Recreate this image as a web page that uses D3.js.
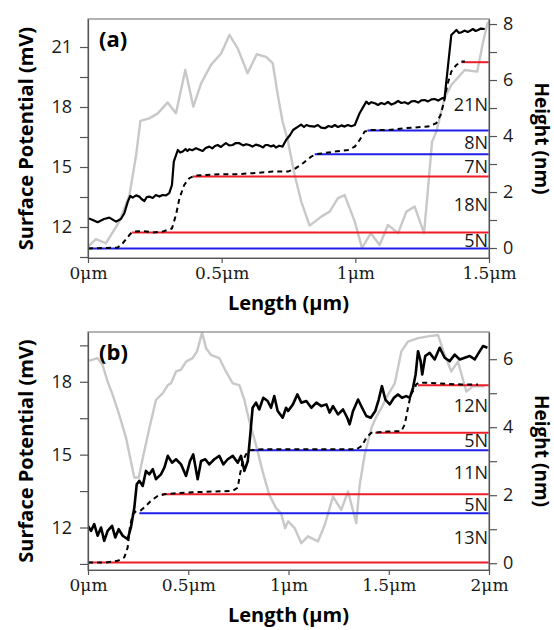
<!DOCTYPE html>
<html>
<head>
<meta charset="utf-8">
<script src="https://cdn.jsdelivr.net/npm/d3@7"></script>
<style>
  body { margin: 0; background: #fff; }
  svg { display: block; }
</style>
</head>
<body>
<svg id="chart"></svg>
<script>
// ---- panel (a) data : [length um, value] ----
var aHeight = [[0,0.05],[0.03,0.32],[0.067,0.17],[0.117,0.94],[0.155,1.89],[0.18,3.32],[0.196,4.54],[0.229,4.63],
  [0.261,4.81],[0.298,5.2],[0.329,4.81],[0.364,6.36],[0.394,5.05],[0.423,5.88],[0.46,6.54],[0.498,6.95],[0.529,7.61],
  [0.56,7.13],[0.597,6.24],[0.631,6.92],[0.666,6.83],[0.691,6.6],[0.71,5.46],[0.728,4.51],[0.747,3.86],[0.773,2.61],
  [0.798,1.65],[0.829,0.8],[0.873,1.12],[0.904,1.3],[0.935,1.78],[0.96,1.89],[0.998,0.94],[1.025,0.0],[1.058,0.53],
  [1.091,0.11],[1.122,0.82],[1.16,0.53],[1.191,1.3],[1.222,1.48],[1.257,0.53],[1.272,2.13],[1.287,3.8],[1.303,4.15],
  [1.334,5.35],[1.359,5.82],[1.409,6.36],[1.456,6.3],[1.478,7.37],[1.496,8.08]];

var aPotential = [[0,12.44],[0.018,12.35],[0.036,12.24],[0.06,12.4],[0.08,12.47],[0.105,12.27],[0.123,12.4],[0.136,12.69],
  [0.149,13.27],[0.158,13.55],[0.167,13.47],[0.18,13.58],[0.192,13.52],[0.2,13.4],[0.211,13.3],[0.22,13.5],[0.229,13.52],
  [0.242,13.45],[0.254,13.6],[0.267,13.52],[0.279,13.6],[0.292,13.58],[0.304,13.69],
  [0.314,14.1],[0.321,15.27],[0.336,15.85],[0.345,15.72],[0.354,15.77],[0.365,15.9],[0.372,15.8],[0.379,15.89],
  [0.39,15.84],[0.404,15.94],[0.415,15.88],[0.429,15.8],[0.44,15.95],[0.454,16.02],[0.465,15.93],[0.475,16.05],
  [0.485,16.1],[0.497,16.0],[0.508,16.12],[0.516,16.19],[0.528,16.08],[0.541,16.1],[0.553,16.2],[0.566,16.19],
  [0.58,16.08],[0.592,16.14],[0.603,16.1],[0.615,16.02],[0.628,16.12],[0.641,16.07],[0.655,15.98],[0.664,16.1],
  [0.672,16.1],[0.685,16.03],[0.695,16.08],[0.703,15.97],[0.715,16.06],[0.728,16.02],
  [0.741,16.35],[0.756,16.6],[0.767,16.85],[0.786,17.02],[0.797,17.12],[0.808,17.0],[0.817,17.1],[0.83,17.04],
  [0.848,17.02],[0.86,17.1],[0.872,16.97],[0.886,16.94],[0.9,17.05],[0.912,17.0],[0.923,17.1],[0.935,17.0],
  [0.948,17.08],[0.96,17.02],[0.972,17.1],[0.985,17.04],[0.998,17.1],
  [1.016,17.69],[1.041,18.27],[1.05,18.15],[1.06,18.24],[1.073,18.19],[1.085,18.1],[1.097,18.2],[1.11,18.14],
  [1.122,18.25],[1.135,18.12],[1.147,18.19],[1.16,18.3],[1.172,18.2],[1.185,18.24],[1.197,18.16],[1.21,18.28],
  [1.222,18.3],[1.235,18.22],[1.247,18.33],[1.26,18.35],[1.272,18.28],[1.285,18.38],[1.297,18.4],[1.31,18.32],
  [1.322,18.42],[1.334,18.47],[1.347,20.1],[1.359,21.6],[1.378,21.85],[1.388,21.7],[1.397,21.74],[1.41,21.82],
  [1.42,21.75],[1.428,21.8],[1.44,21.9],[1.45,21.8],[1.459,21.85],[1.47,21.92],[1.484,21.9]];

var aDashed = [[0,10.93],[0.111,10.97],[0.13,11.19],[0.155,11.6],[0.167,11.77],[0.205,11.8],[0.242,11.73],[0.279,11.77],
  [0.314,11.93],[0.329,12.6],[0.342,13.43],[0.36,14.1],[0.379,14.44],[0.398,14.57],[0.442,14.6],[0.492,14.64],
  [0.554,14.64],[0.616,14.69],[0.691,14.77],[0.748,14.77],[0.773,14.9],[0.804,15.19],[0.835,15.52],[0.854,15.64],
  [0.923,15.77],[0.973,15.85],[0.998,16.02],[1.016,16.35],[1.035,16.77],[1.054,16.85],[1.122,16.85],[1.185,16.94],
  [1.272,17.02],[1.303,17.19],[1.319,17.6],[1.332,18.27],[1.344,19.1],[1.359,19.77],[1.378,20.1],[1.397,20.27],[1.41,20.27]];

// level lines: [potential mV, start um, colour]
var aLevels = [[10.93,0,"blue"],[11.73,0.165,"red"],[14.52,0.392,"red"],[15.64,0.848,"blue"],[16.82,1.045,"blue"],[20.24,1.397,"red"]];
var aForces = ["21N","8N","7N","18N","5N"];
var aForceAt = [18.1,16.2,15.0,13.1,11.3];

// ---- panel (b) data ----
var bHeight = [[0,5.95],[0.02,5.98],[0.048,6.03],[0.073,5.83],[0.098,5.34],[0.123,4.95],[0.156,4.36],[0.19,3.68],[0.214,2.99],
  [0.231,2.52],[0.253,2.52],[0.273,3.09],[0.306,3.97],[0.339,4.8],[0.373,5.0],[0.398,5.24],[0.414,5.29],[0.439,5.64],
  [0.464,5.69],[0.489,5.93],[0.522,6.03],[0.544,6.23],[0.569,6.79],[0.589,6.32],[0.613,6.13],[0.655,6.03],[0.688,5.64],
  [0.722,5.29],[0.755,5.24],[0.78,4.8],[0.805,4.17],[0.838,3.48],[0.871,2.7],[0.904,2.01],[0.938,1.62],[0.963,1.47],
  [0.983,1.03],[0.998,1.23],[1.031,1.03],[1.064,0.59],[1.097,0.79],[1.147,0.64],[1.181,1.13],[1.222,1.96],[1.263,1.57],
  [1.297,2.11],[1.338,1.18],[1.355,2.3],[1.38,3.19],[1.413,3.97],[1.438,4.31],[1.463,4.56],[1.496,4.95],[1.53,5.29],
  [1.563,6.23],[1.596,6.52],[1.646,6.62],[1.696,6.67],[1.746,6.71],[1.779,6.13],[1.812,5.64],[1.845,5.93],[1.887,5.05],
  [1.92,5.2],[1.978,5.2]];

var bPotential = [[0,12.07],[0.015,11.86],[0.031,12.14],[0.048,11.66],[0.065,12.0],[0.081,11.45],[0.098,11.86],[0.12,12.07],
  [0.136,11.59],[0.153,11.93],[0.173,11.66],[0.198,11.52],[0.214,12.0],[0.231,12.82],[0.243,13.78],[0.256,13.92],
  [0.273,13.71],[0.289,14.33],[0.306,14.19],[0.323,14.4],[0.339,13.99],[0.364,14.19],[0.381,14.47],[0.398,14.95],
  [0.419,14.67],[0.439,14.81],[0.464,14.6],[0.489,14.12],[0.509,14.74],[0.525,15.01],[0.547,13.99],[0.564,14.74],
  [0.585,14.81],[0.605,14.6],[0.63,14.81],[0.655,14.95],[0.675,14.6],[0.697,14.81],[0.722,14.95],[0.747,14.67],
  [0.763,14.95],[0.78,14.33],[0.797,14.74],[0.808,15.7],[0.821,16.93],[0.838,17.14],[0.854,16.86],[0.874,17.34],
  [0.896,17.21],[0.913,16.93],[0.929,17.41],[0.946,16.8],[0.971,16.52],[0.988,16.93],[0.998,16.8],[1.022,17.07],
  [1.044,17.48],[1.064,17.14],[1.089,17.21],[1.114,16.93],[1.139,17.14],[1.164,17.0],[1.189,17.07],[1.205,16.73],
  [1.222,17.0],[1.247,16.66],[1.272,16.86],[1.293,16.52],[1.305,16.25],[1.322,16.8],[1.347,17.27],[1.367,16.93],
  [1.388,16.59],[1.41,16.52],[1.433,16.8],[1.45,17.27],[1.466,17.82],[1.483,17.27],[1.505,17.07],[1.526,17.34],
  [1.546,17.48],[1.566,17.34],[1.588,17.41],[1.605,17.34],[1.621,17.75],[1.634,18.3],[1.646,19.26],[1.659,18.85],
  [1.667,18.3],[1.682,19.06],[1.704,19.19],[1.729,18.92],[1.754,19.4],[1.779,18.99],[1.804,18.85],[1.829,19.12],
  [1.854,18.92],[1.879,18.99],[1.904,19.06],[1.929,18.92],[1.954,19.26],[1.97,19.47],[1.992,19.4]];

var bDashed = [[0,10.56],[0.09,10.56],[0.148,10.63],[0.181,10.77],[0.198,11.18],[0.209,12.0],[0.223,12.55],[0.239,12.66],
  [0.264,12.71],[0.289,12.89],[0.314,13.1],[0.348,13.3],[0.381,13.37],[0.489,13.44],[0.622,13.48],[0.722,13.51],
  [0.747,13.64],[0.758,14.19],[0.772,14.74],[0.788,15.01],[0.805,15.18],[0.871,15.22],[1.164,15.22],[1.338,15.22],
  [1.367,15.36],[1.388,15.7],[1.413,15.9],[1.496,15.95],[1.563,15.97],[1.58,16.25],[1.596,16.93],[1.61,17.48],
  [1.626,17.68],[1.637,17.89],[1.649,17.96],[1.696,17.96],[1.779,17.92],[1.863,17.89],[1.945,17.89]];

var bLevels = [[10.56,0,"red"],[12.59,0.256,"blue"],[13.37,0.369,"red"],[15.18,0.813,"blue"],[15.9,1.433,"red"],[17.86,1.646,"red"]];
var bForces = ["12N","5N","11N","5N","13N"];
var bForceAt = [17.01,15.58,14.26,12.95,11.59];

// axis ticks
var aPotTicks = [10.5,12,13.5,15,16.5,18,19.5,21];
var aNmTicks = [0,1,2,3,4,5,6,7,8];
var aLenTicks = [0,0.5,1,1.5];
var bPotTicks = [10.5,12,13.5,15,16.5,18,19.5];
var bNmTicks = [0,1,2,3,4,5,6];
var bLenTicks = [0,0.5,1,1.5,2];

var width = 554, height = 630;
var colours = {red: "#ee1c24", blue: "#1f1fe8"};

var svg = d3.select("#chart")
    .attr("width", width)
    .attr("height", height)
    .style("font-family", "'Open Sans', sans-serif");

function panel(p) {
  var x = d3.scaleLinear().domain(p.lenDomain).range([88, 489]);
  var yL = d3.scaleLinear().domain(p.potDomain).range([p.bottom, p.top]);
  var yR = d3.scaleLinear().domain(p.nmDomain).range([p.bottom, p.top]);

  var g = svg.append("g");

  g.append("clipPath").attr("id", "clip" + p.name)
    .append("rect").attr("x", 88).attr("y", p.top).attr("width", 401).attr("height", p.bottom - p.top);

  var plot = g.append("g").attr("clip-path", "url(#clip" + p.name + ")");

  // height trace (grey, right axis)
  plot.append("path")
    .datum(p.height)
    .attr("fill", "none")
    .attr("stroke", "#c8c8c8")
    .attr("stroke-width", 2.4)
    .attr("stroke-linejoin", "round")
    .attr("d", d3.line().x(function(d) { return x(d[0]); }).y(function(d) { return yR(d[1]); }));

  // reference levels
  plot.selectAll(".level")
    .data(p.levels)
    .enter()
    .append("line")
      .attr("x1", function(d) { return x(d[1]); })
      .attr("x2", x(p.lenDomain[1]))
      .attr("y1", function(d) { return yL(d[0]); })
      .attr("y2", function(d) { return yL(d[0]); })
      .attr("stroke", function(d) { return colours[d[2]]; })
      .attr("stroke-width", 2);

  var potLine = d3.line().x(function(d) { return x(d[0]); }).y(function(d) { return yL(d[1]); });

  plot.append("path")
    .datum(p.dashed)
    .attr("fill", "none")
    .attr("stroke", "#000")
    .attr("stroke-width", 2)
    .attr("stroke-dasharray", "5,4")
    .attr("d", potLine);

  plot.append("path")
    .datum(p.potential)
    .attr("fill", "none")
    .attr("stroke", "#000")
    .attr("stroke-width", p.lineW)
    .attr("stroke-linejoin", "round")
    .attr("d", potLine);

  // frame
  g.append("rect")
    .attr("x", 88).attr("y", p.top)
    .attr("width", 401).attr("height", p.bottom - p.top)
    .attr("fill", "none")
    .attr("stroke", "#808080")
    .attr("stroke-width", 1.2);

  // force labels
  g.selectAll(".force")
    .data(p.forces)
    .enter()
    .append("text")
      .attr("x", 488)
      .attr("y", function(d, i) { return yL(p.forceAt[i]); })
      .attr("dy", "0.36em")
      .attr("text-anchor", "end")
      .style("font-size", "18px")
      .style("fill", "#1a1a1a")
      .text(function(d) { return d; });

  // axes
  var left = g.append("g")
    .attr("transform", "translate(88,0)")
    .call(d3.axisLeft(yL).tickValues(p.potTicks).tickSize(8).tickPadding(8).tickSizeOuter(0)
      .tickFormat(function(d) { return d % 3 === 0 ? d : ""; }));

  var right = g.append("g")
    .attr("transform", "translate(489,0)")
    .call(d3.axisRight(yR).tickValues(p.nmTicks).tickSize(8).tickPadding(6).tickSizeOuter(0)
      .tickFormat(function(d) { return d % 2 === 0 ? d : ""; }));

  var bottom = g.append("g")
    .attr("transform", "translate(0," + p.bottom + ")")
    .call(d3.axisBottom(x).tickValues(p.lenTicks).tickSize(5).tickPadding(4).tickSizeOuter(0)
      .tickFormat(function(d) { return d + "\u03bcm"; }));

  [left, right, bottom].forEach(function(ax) {
    ax.select(".domain").attr("stroke", "#555").attr("stroke-width", 1.2);
    ax.selectAll(".tick line").attr("stroke", "#555").attr("stroke-width", 1.2);
    ax.selectAll(".tick text").style("font-size", "18px").style("fill", "#1a1a1a")
      .style("font-family", "'Open Sans', sans-serif");
  });
  bottom.selectAll(".tick text").style("font-family", "'DejaVu Serif', serif").style("font-size", "17px");

  var mid = (p.top + p.bottom) / 2;

  g.append("text")
    .attr("transform", "translate(33," + mid + ") rotate(-90)")
    .attr("text-anchor", "middle")
    .style("font-size", "20px").style("font-weight", "bold")
    .text("Surface Potential (mV)");

  g.append("text")
    .attr("transform", "translate(535," + mid + ") rotate(90)")
    .attr("text-anchor", "middle")
    .style("font-size", "19px").style("font-weight", "bold")
    .text("Height (nm)");

  g.append("text")
    .attr("x", 288.5).attr("y", p.bottom + 52)
    .attr("text-anchor", "middle")
    .style("font-size", "20px").style("font-weight", "bold")
    .text("Length (\u03bcm)");

  g.append("text")
    .attr("x", 99).attr("y", p.top + 28)
    .style("font-size", "22px").style("font-weight", "bold")
    .text(p.label);
}

panel({name: "a", label: "(a)", top: 19, bottom: 258,
  lenDomain: [0, 1.5], potDomain: [10.45, 22.4], nmDomain: [-0.357, 8.18],
  height: aHeight, potential: aPotential, dashed: aDashed, levels: aLevels,
  forces: aForces, forceAt: aForceAt, potTicks: aPotTicks, nmTicks: aNmTicks, lenTicks: aLenTicks, lineW: 2.2});

panel({name: "b", label: "(b)", top: 332, bottom: 570,
  lenDomain: [0, 2], potDomain: [10.25, 20.05], nmDomain: [-0.2, 6.8],
  height: bHeight, potential: bPotential, dashed: bDashed, levels: bLevels,
  forces: bForces, forceAt: bForceAt, potTicks: bPotTicks, nmTicks: bNmTicks, lenTicks: bLenTicks, lineW: 2.6});
</script>
</body>
</html>
